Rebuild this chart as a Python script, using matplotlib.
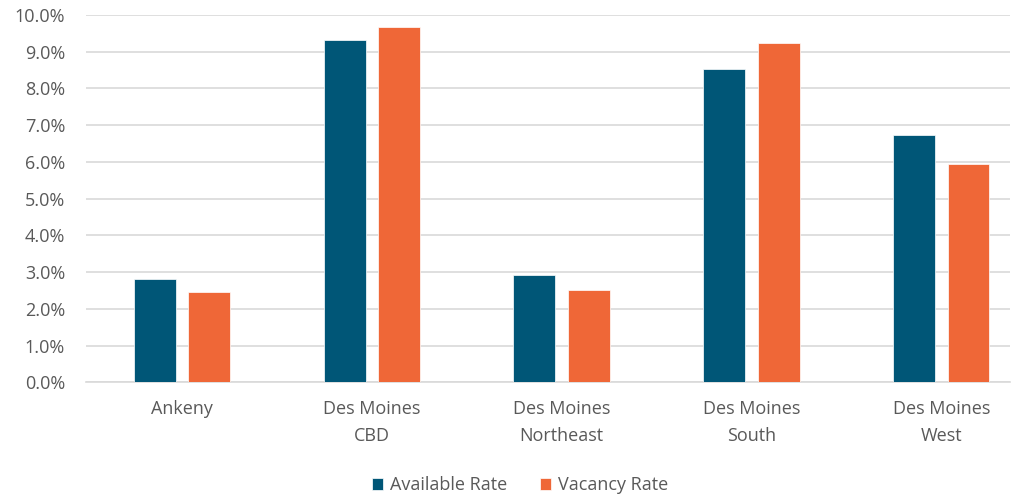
import matplotlib.pyplot as plt
import numpy as np
from matplotlib.ticker import PercentFormatter

# submarket rates (%)
submarkets = ["Ankeny", "Des Moines\nCBD", "Des Moines\nNortheast", "Des Moines\nSouth", "Des Moines\nWest"]
available_rate = [2.81, 9.33, 2.92, 8.54, 6.72]
vacancy_rate = [2.46, 9.67, 2.51, 9.24, 5.93]

plt.rcParams['font.family'] = ['Open Sans', 'DejaVu Sans']

fig = plt.figure(figsize=(10.23, 4.96), dpi=100)
ax = fig.add_axes([0.084, 0.229, 0.903, 0.741])

x = np.arange(len(submarkets))
width = 0.221
offset = 0.143
ax.bar(x - offset, available_rate, width, color="#005677", edgecolor="white",
       linewidth=0.5, label="Available Rate", zorder=3)
ax.bar(x + offset, vacancy_rate, width, color="#EF6737", edgecolor="white",
       linewidth=0.5, label="Vacancy Rate", zorder=3)

# the plot area stops short of the last category's full slot
ax.set_xlim(-0.505, 4.36)
ax.set_ylim(0, 10)
ax.set_yticks(np.arange(0, 10.5, 1))
ax.yaxis.set_major_formatter(PercentFormatter(decimals=1))
ax.set_xticks(x)
ax.set_xticklabels(submarkets, linespacing=1.6)

ax.grid(axis="y", color="#d9d9d9", linewidth=1.2, zorder=0)
for side in ["top", "right", "left"]:
    ax.spines[side].set_visible(False)
ax.spines["bottom"].set_color("#d9d9d9")
ax.spines["bottom"].set_linewidth(1.2)
ax.tick_params(axis="both", length=0, labelsize=13, labelcolor="#595959")
ax.tick_params(axis="x", pad=13)
ax.tick_params(axis="y", pad=15)

ax.legend(loc="center", bbox_to_anchor=(0.47, -0.28), ncol=2, frameon=False,
          fontsize=13, labelcolor="#595959", handlelength=0.6, handleheight=0.6,
          handletextpad=0.4, columnspacing=1.8)

fig.savefig("out.png")
